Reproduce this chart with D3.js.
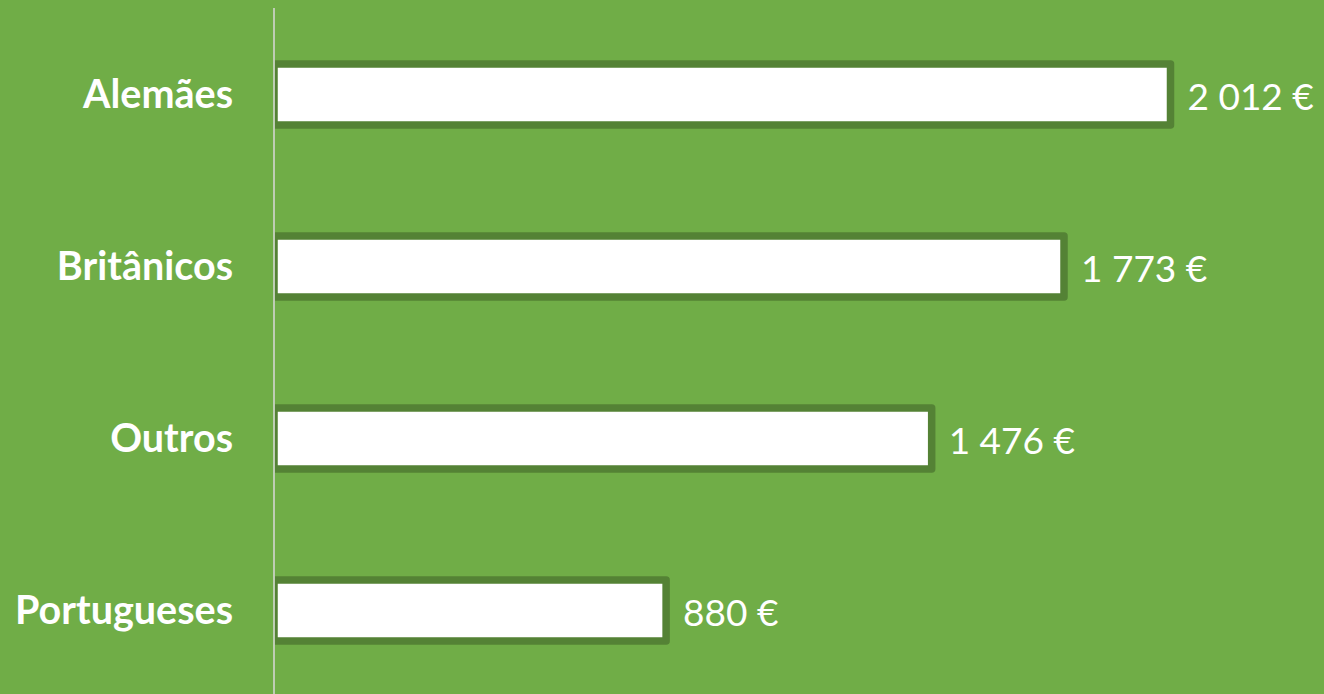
<!DOCTYPE html>
<html><head><meta charset="utf-8">
<script src="https://cdn.jsdelivr.net/npm/d3@7"></script>
<style>html,body{margin:0;padding:0;background:#70AD47;overflow:hidden}</style>
</head><body>
<svg id="c" width="1324" height="694"></svg>
<script>
const categories = ["Alemães", "Britânicos", "Outros", "Portugueses"];
const values = [2012, 1773, 1476, 880];
const valueLabels = ["2 012 €", "1 773 €", "1 476 €", "880 €"];

const svg = d3.select("#c");
svg.append("rect").attr("width",1324).attr("height",694).attr("fill","#70AD47");

const x0 = 274;
const x = d3.scaleLinear().domain([0, 2012]).range([x0, 1170.5]);
const y = d3.scaleBand().domain(categories).range([8.5, 696.5]).paddingInner(0.645).paddingOuter(0.3225);

const data = categories.map((c,i)=>({c, v: values[i], l: valueLabels[i]}));

const clip = svg.append("clipPath").attr("id","clp").append("rect")
  .attr("x", x0+1).attr("y",0).attr("width",1324).attr("height",694);

svg.append("g").attr("clip-path","url(#clp)").selectAll("rect").data(data).join("rect")
  .attr("x", x(0))
  .attr("y", d=>y(d.c))
  .attr("width", d=>x(d.v)-x(0))
  .attr("height", y.bandwidth())
  .attr("fill","#ffffff")
  .attr("stroke","#548235")
  .attr("stroke-width",7.5)
  .attr("stroke-linejoin","round");

svg.append("line").attr("x1",x0).attr("x2",x0).attr("y1",8).attr("y2",694)
  .attr("stroke","#D9D9D9").attr("stroke-width",1.5);

svg.selectAll("text.cat").data(data).join("text").attr("class","cat")
  .attr("x",233).attr("y",d=>y(d.c)+y.bandwidth()/2+13)
  .attr("text-anchor","end")
  .attr("font-family","Lato, 'Open Sans', sans-serif")
  .attr("font-weight","bold").attr("font-size",39.5)
  .attr("fill","#ffffff").text(d=>d.c);

svg.selectAll("text.val").data(data).join("text").attr("class","val")
  .attr("x",d=>x(d.v)+17).attr("y",d=>y(d.c)+y.bandwidth()/2+15)
  .attr("font-family","Lato, 'Open Sans', sans-serif")
  .attr("font-size",37)
  .attr("fill","#ffffff").text(d=>d.l);
</script>
</body></html>
